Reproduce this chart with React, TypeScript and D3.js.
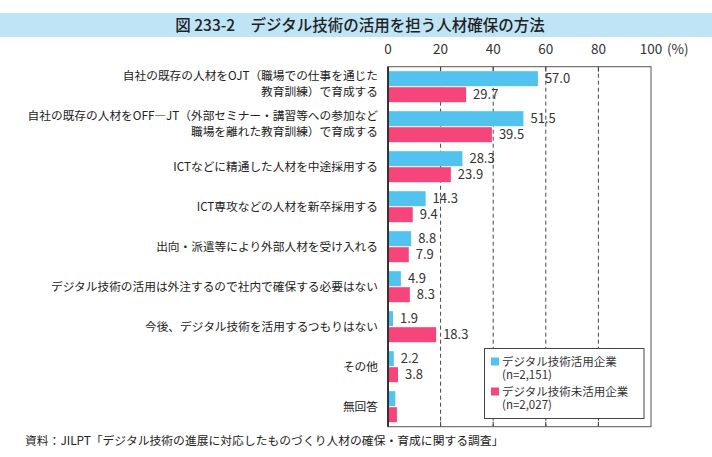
import * as d3 from 'd3'

const categories = [
  ['自社の既存の人材をOJT（職場での仕事を通じた', '教育訓練）で育成する'],
  ['自社の既存の人材をOFF―JT（外部セミナー・講習等への参加など', '職場を離れた教育訓練）で育成する'],
  ['ICTなどに精通した人材を中途採用する'],
  ['ICT専攻などの人材を新卒採用する'],
  ['出向・派遣等により外部人材を受け入れる'],
  ['デジタル技術の活用は外注するので社内で確保する必要はない'],
  ['今後、デジタル技術を活用するつもりはない'],
  ['その他'],
  ['無回答'],
]

const usingValues = [57.0, 51.5, 28.3, 14.3, 8.8, 4.9, 1.9, 2.2, 2.8]
const notUsingValues = [29.7, 39.5, 23.9, 9.4, 7.9, 8.3, 18.3, 3.8, 3.4]
// 無回答 has no value labels in the original
const showLabel = [true, true, true, true, true, true, true, true, false]

const ticks = [0, 20, 40, 60, 80, 100]
const seriesNames = [
  ['デジタル技術活用企業', '(n=2,151)'],
  ['デジタル技術未活用企業', '(n=2,027)'],
]

const BLUE = '#52c3ef'
const PINK = '#f6457a'
const FONT = '"Noto Sans CJK JP", "Noto Sans", sans-serif'

export default function App() {
  const width = 712
  const height = 457
  const left = 388
  const right = 651
  const top = 66.7
  const bottom = 426.7

  const x = d3.scaleLinear([0, 100], [left, right])
  const y = d3
    .scaleBand<number>()
    .domain(d3.range(categories.length))
    .range([top, bottom])
  const barH = 15
  const gap = 1
  const groupOff = (y.bandwidth() - (barH * 2 + gap)) / 2

  const fmt = d3.format('.1f')

  return (
    <svg
      width={width}
      height={height}
      style={{ position: 'absolute', left: 0, top: 0, fontFamily: FONT }}
    >
      <rect x={0} y={0} width={width} height={height} fill="#fff" />
      {/* title */}
      <rect x={0} y={13} width={width} height={24} fill="#bee4f5" />
      <text
        x={360}
        y={30.5}
        textAnchor="middle"
        fontSize={15.5}
        fontWeight={500}
        fill="#222"
      >
        図 233-2　デジタル技術の活用を担う人材確保の方法
      </text>

      {/* tick labels */}
      {ticks.map((t) => (
        <text
          key={t}
          x={x(t)}
          y={54}
          textAnchor="middle"
          fontSize={13.5}
          fill="#333"
        >
          {t}
        </text>
      ))}
      <text x={x(100) + 16} y={54} fontSize={13.5} fill="#333">
        (%)
      </text>

      {/* grid */}
      {ticks
        .filter((t) => t > 0 && t < 100)
        .map((t) => (
          <g key={t} stroke="#444" strokeWidth={1}>
            <line
              x1={x(t)}
              x2={x(t)}
              y1={top}
              y2={bottom}
              strokeDasharray="4,3"
            />
            <line x1={x(t)} x2={x(t)} y1={top} y2={top + 5} />
            <line x1={x(t)} x2={x(t)} y1={bottom - 5} y2={bottom} />
          </g>
        ))}
      <rect
        x={left}
        y={top}
        width={right - left}
        height={bottom - top}
        fill="none"
        stroke="#555"
        strokeWidth={1}
      />

      {/* bars */}
      {categories.map((_, i) => {
        const y0 = (y(i) as number) + groupOff
        const y1 = y0 + barH + gap
        return (
          <g key={i}>
            <rect
              x={x(0)}
              y={y0}
              width={x(usingValues[i]) - x(0)}
              height={barH}
              fill={BLUE}
            />
            <rect
              x={x(0)}
              y={y1}
              width={x(notUsingValues[i]) - x(0)}
              height={barH}
              fill={PINK}
            />
            {showLabel[i] && (
              <>
                <text
                  x={x(usingValues[i]) + 7}
                  y={y0 + barH / 2}
                  dy="0.36em"
                  fontSize={13}
                  fill="#333"
                >
                  {fmt(usingValues[i])}
                </text>
                <text
                  x={x(notUsingValues[i]) + 7}
                  y={y1 + barH / 2}
                  dy="0.36em"
                  fontSize={13}
                  fill="#333"
                >
                  {fmt(notUsingValues[i])}
                </text>
              </>
            )}
          </g>
        )
      })}
      <line x1={left} x2={left} y1={top} y2={bottom} stroke="#333" strokeWidth={2} />

      {/* category labels */}
      {categories.map((lines, i) => {
        const cy = (y(i) as number) + y.bandwidth() / 2
        const lh = 15.5
        const start = cy - ((lines.length - 1) * lh) / 2 - (lines.length > 1 ? 3 : 0)
        return (
          <text
            key={i}
            x={378}
            textAnchor="end"
            fontSize={11.7}
            fill="#222"
          >
            {lines.map((l, j) => (
              <tspan key={j} x={378} y={start + j * lh} dy="0.36em">
                {l}
              </tspan>
            ))}
          </text>
        )
      })}

      {/* legend */}
      <rect
        x={484.5}
        y={348.5}
        width={159.5}
        height={70}
        fill="#fff"
        stroke="#444"
        strokeWidth={1}
      />
      {seriesNames.map((s, i) => (
        <g key={i} transform={`translate(491,${361.5 + i * 30})`}>
          <rect x={0} y={-4} width={8} height={8} fill={i === 0 ? BLUE : PINK} />
          <text x={11} y={0} dy="0.36em" fontSize={11.5} fill="#333">
            {s[0]}
          </text>
          <text x={11} y={13} dy="0.36em" fontSize={11.5} fill="#333">
            {s[1]}
          </text>
        </g>
      ))}

      {/* source */}
      <text x={25} y={445} fontSize={11.8} fill="#222">
        資料：JILPT「デジタル技術の進展に対応したものづくり人材の確保・育成に関する調査」
      </text>
    </svg>
  )
}
